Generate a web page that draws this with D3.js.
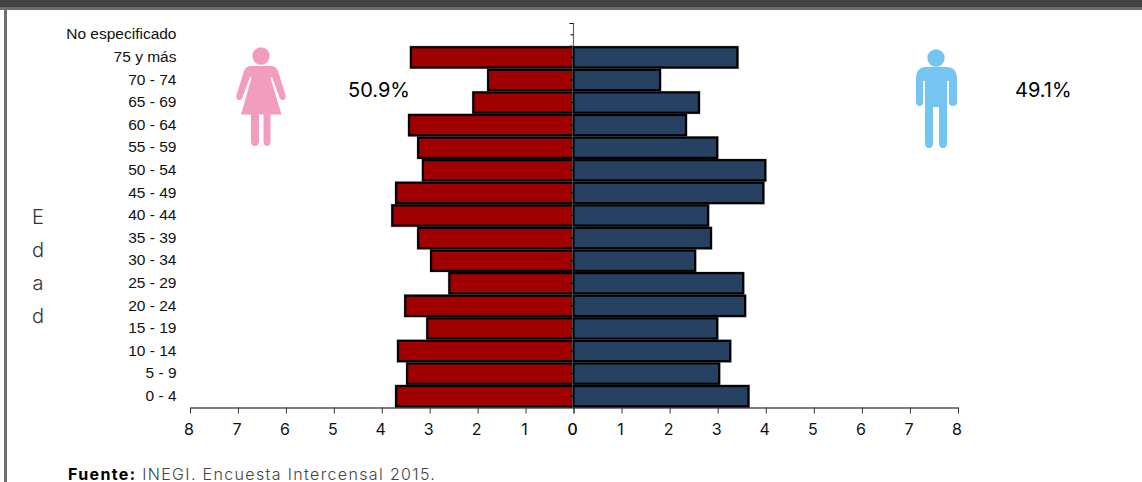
<!DOCTYPE html>
<html lang="es">
<head>
<meta charset="UTF-8">
<title>Piramide de poblacion</title>
<style>
body { margin: 0; background: #fff; overflow: hidden; }
svg { display: block; }
</style>
</head>
<body>
<svg width="1142" height="482"></svg>
<script src="https://d3js.org/d3.v7.min.js"></script>
<script>
const ageGroups = ["No especificado", "75 y más", "70 - 74", "65 - 69", "60 - 64", "55 - 59", "50 - 54", "45 - 49",
    "40 - 44", "35 - 39", "30 - 34", "25 - 29", "20 - 24", "15 - 19", "10 - 14", "5 - 9", "0 - 4"];
const women = [0, 3.39, 1.78, 2.09, 3.43, 3.24, 3.14, 3.70, 3.78, 3.24, 2.97, 2.59, 3.51, 3.05, 3.66, 3.47, 3.70];
const men = [0, 3.41, 1.80, 2.61, 2.34, 2.99, 3.99, 3.95, 2.80, 2.86, 2.53, 3.53, 3.57, 2.99, 3.26, 3.03, 3.64];
const axisTicks = [0, 1, 2, 3, 4, 5, 6, 7, 8];
const yLabel = ["E", "d", "a", "d"];

const svg = d3.select("svg");
const gothic = "Inter, 'Noto Sans', sans-serif";

// page frame
svg.append("rect").attr("width", 1142).attr("height", 7).attr("fill", "#434343");
svg.append("rect").attr("y", 7).attr("width", 1142).attr("height", 3).attr("fill", "#6e6e72");
svg.append("rect").attr("x", 4).attr("y", 7).attr("width", 3).attr("height", 475).attr("fill", "#6e6e72");

// scales
const x0 = 573.5;
const xLeft = d3.scaleLinear().domain([0, 8]).range([x0, 190]);
const xRight = d3.scaleLinear().domain([0, 8]).range([x0, 958]);
const y = d3.scaleBand().domain(ageGroups).range([23.5, 407.5]).paddingInner(0.1).paddingOuter(0.05);

// axis line and the ticks between rows sit under the bars
const under = svg.append("g").attr("transform", `translate(${x0},0)`);
under.append("line").attr("y1", 23).attr("y2", 407).attr("stroke", "#666").attr("stroke-width", 1.2);
under.selectAll("line.edge").data(ageGroups).join("line")
    .attr("class", "edge")
    .attr("x1", -4).attr("x2", 0)
    .attr("y1", d => y(d) - y.step() * y.paddingInner() / 2)
    .attr("y2", d => y(d) - y.step() * y.paddingInner() / 2)
    .attr("stroke", "#000");

// bars, with the soft grey edge of the original
function drawBars(values, scale, fill, cls) {
    const left = scale === xLeft;
    const rows = ageGroups.map((a, i) => ({ age: a, v: values[i] })).filter(d => d.v > 0);
    svg.selectAll("rect." + cls + "-shadow").data(rows).join("rect")
        .attr("class", cls + "-shadow")
        .attr("x", d => (left ? scale(d.v) : x0) - 1.5)
        .attr("y", d => y(d.age) - 1.5)
        .attr("width", d => Math.abs(scale(d.v) - x0) + 3)
        .attr("height", y.bandwidth() + 3)
        .attr("fill", "#b5b5b5");
    svg.selectAll("rect." + cls).data(rows).join("rect")
        .attr("class", cls)
        .attr("x", d => left ? scale(d.v) : x0)
        .attr("y", d => y(d.age))
        .attr("width", d => Math.abs(scale(d.v) - x0))
        .attr("height", y.bandwidth())
        .attr("fill", fill)
        .attr("stroke", "#000")
        .attr("stroke-width", 2.2);
}
drawBars(women, xLeft, "#a10000", "women");
drawBars(men, xRight, "#264162", "men");

// category axis, labels far to the left
const gy = svg.append("g").attr("transform", `translate(${x0},0)`)
    .call(d3.axisLeft(y).tickSize(3).tickPadding(394));
gy.select(".domain").remove();
gy.selectAll("line").attr("stroke", "#000");
gy.selectAll("text").attr("font-family", "'Liberation Sans', Arial, sans-serif").attr("font-size", 15.5)
    .attr("fill", "#111").attr("dy", "0.3em");

// bottom axes
function bottomAxis(scale) {
    const g = svg.append("g").attr("transform", "translate(0,407.5)")
        .call(d3.axisBottom(scale).tickValues(axisTicks).tickFormat(d3.format("d")).tickSize(6).tickSizeOuter(0).tickPadding(10));
    g.select(".domain").attr("stroke", "#000").attr("stroke-width", 1.2);
    g.selectAll("line").attr("stroke", "#333");
    g.selectAll("text").attr("font-family", "Inter, sans-serif").attr("font-size", 16).attr("fill", "#111").attr("dx", -1.5);
}
bottomAxis(xLeft);
bottomAxis(xRight);

// "Edad" written letter by letter
svg.selectAll("text.edad").data(yLabel).join("text")
    .attr("class", "edad")
    .attr("x", 38)
    .attr("y", (d, i) => 223.5 + i * 33.3)
    .attr("text-anchor", "middle")
    .attr("font-family", gothic)
    .attr("font-weight", 300)
    .attr("font-size", 20)
    .attr("fill", "#333")
    .text(d => d);

// percentages
svg.append("text").attr("x", 348).attr("y", 97).attr("font-family", gothic)
    .attr("font-size", 20).attr("fill", "#000").text("50.9%");
svg.append("text").attr("x", 1015).attr("y", 97).attr("font-family", gothic)
    .attr("font-size", 20).attr("fill", "#000").text("49.1%");

// woman icon
const woman = svg.append("g").attr("fill", "#f29cbe");
woman.append("circle").attr("cx", 261).attr("cy", 56).attr("r", 8.7);
woman.append("path").attr("d",
    "M251,66 H271 Q276,66 278,71 L285.5,95 Q286.5,100 282.5,100 Q280,100 279,96 L272,77 L270.5,78 L281.5,114.5" +
    " H270.5 V141 Q270.5,146 267,146 Q263.5,146 263.5,141 V114.5 H259 V141 Q259,146 255,146 Q251,146 251,141 V114.5" +
    " H241 L251.5,78 L250,77 L243,96 Q242,100 239.5,100 Q235.5,100 236.5,95 L244,71 Q246,66 251,66 Z");

// man icon
const man = svg.append("g").attr("fill", "#75c5f3");
man.append("circle").attr("cx", 936).attr("cy", 58).attr("r", 8.7);
man.append("path").attr("d",
    "M926,67 H946 Q957,67 957,79 V102 Q957,106 953,106 Q949,106 949,102 V81 H947 V143 Q947,148 943,148 Q939,148 939,143" +
    " V107 H933 V143 Q933,148 929,148 Q925,148 925,143 V81 H923 V102 Q923,106 919.5,106 Q916,106 916,102 V79 Q916,67 926,67 Z");

// source
const src = svg.append("text").attr("x", 68).attr("y", 479.5).attr("font-family", gothic).attr("font-size", 16)
    .attr("letter-spacing", 1.35).attr("fill", "#444");
src.append("tspan").attr("font-weight", 700).attr("fill", "#000").text("Fuente:");
src.append("tspan").attr("font-weight", 300).text(" INEGI. Encuesta Intercensal 2015.");
</script>
</body>
</html>
